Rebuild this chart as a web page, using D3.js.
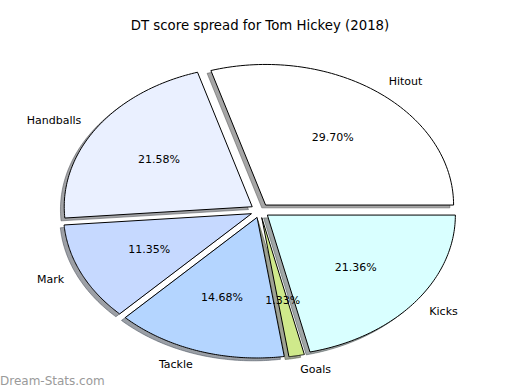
<!DOCTYPE html>
<html>
<head>
<meta charset="utf-8">
<script src="https://cdn.jsdelivr.net/npm/d3@7"></script>
<style>
  body { margin: 0; background: #fff; }
  text { font-family: "DejaVu Sans", sans-serif; fill: #000; }
</style>
</head>
<body>
<svg id="pieSVG" width="520" height="390"></svg>
<script>
const categories = ["Hitout", "Handballs", "Mark", "Tackle", "Goals", "Kicks"];
const shares = [29.70, 21.58, 11.35, 14.68, 1.33, 21.36];
const colours = ["#ffffff", "#eaf0ff", "#c6d9ff", "#b4d5ff", "#cfe98b", "#d9ffff"];
const explode = [0.05, 0.05, 0.05, 0.05, 0.05, 0.05];

const svg = d3.select('#pieSVG');
const cx = 260, cy = 210.7, rx = 188, ry = 140.6;

// pie in unit coords, squashed into an ellipse via scales
const xScale = d3.scaleLinear().domain([-1, 1]).range([cx - rx, cx + rx]);
const yScale = d3.scaleLinear().domain([-1, 1]).range([cy + ry, cy - ry]);

const total = d3.sum(shares);
let acc = 0;
const slices = categories.map((c, i) => {
    const a0 = acc / total * 2 * Math.PI;
    acc += shares[i];
    const a1 = acc / total * 2 * Math.PI;
    const am = (a0 + a1) / 2;
    return {name: c, value: shares[i], color: colours[i], a0, a1, am,
            ox: explode[i] * Math.cos(am), oy: explode[i] * Math.sin(am)};
});

function wedgePath(d, dx, dy) {
    const n = 80;
    let pts = [[d.ox + dx, d.oy + dy]];
    for (let k = 0; k <= n; k++) {
        const t = d.a0 + (d.a1 - d.a0) * k / n;
        pts.push([d.ox + dx + Math.cos(t), d.oy + dy + Math.sin(t)]);
    }
    return d3.line().x(p => xScale(p[0])).y(p => yScale(p[1]))(pts) + "Z";
}

svg.append('text')
    .attr("x", 260).attr("y", 30)
    .attr("text-anchor", "middle")
    .attr("font-size", 13.3)
    .text("DT score spread for Tom Hickey (2018)");

// shadows under all wedges
svg.append('g').selectAll('.shadow')
    .data(slices)
    .join('path')
    .classed('shadow', true)
    .attr("d", d => wedgePath(d, -0.02, -0.02))
    .attr("fill", d => { const c = d3.rgb(d.color); return d3.rgb(c.r * 0.3, c.g * 0.3, c.b * 0.3); })
    .attr("stroke", d => { const c = d3.rgb(d.color); return d3.rgb(c.r * 0.3, c.g * 0.3, c.b * 0.3); })
    .attr("fill-opacity", 0.5)
    .attr("stroke-opacity", 0.5);

svg.append('g').selectAll('.wedge')
    .data(slices)
    .join('path')
    .classed('wedge', true)
    .attr("d", d => wedgePath(d, 0, 0))
    .attr("fill", d => d.color)
    .attr("stroke", "#000")
    .attr("stroke-width", 1)
    .attr("stroke-linejoin", "miter");

svg.append('g').selectAll('.label')
    .data(slices)
    .join('text')
    .classed('label', true)
    .attr("x", d => xScale(d.ox + 1.1 * Math.cos(d.am)))
    .attr("y", d => yScale(d.oy + 1.1 * Math.sin(d.am)))
    .attr("dy", "0.35em")
    .attr("text-anchor", d => Math.cos(d.am) > 0 ? "start" : "end")
    .attr("font-size", 11)
    .text(d => d.name);

svg.append('g').selectAll('.pct')
    .data(slices)
    .join('text')
    .classed('pct', true)
    .attr("x", d => xScale(d.ox + 0.6 * Math.cos(d.am)))
    .attr("y", d => yScale(d.oy + 0.6 * Math.sin(d.am)))
    .attr("dy", "0.35em")
    .attr("text-anchor", "middle")
    .attr("font-size", 11)
    .text(d => d.value.toFixed(2) + "%");

svg.append('text')
    .attr("x", 0).attr("y", 385)
    .attr("font-size", 12)
    .style("fill", "#9a9a9a")
    .text("Dream-Stats.com");
</script>
</body>
</html>
